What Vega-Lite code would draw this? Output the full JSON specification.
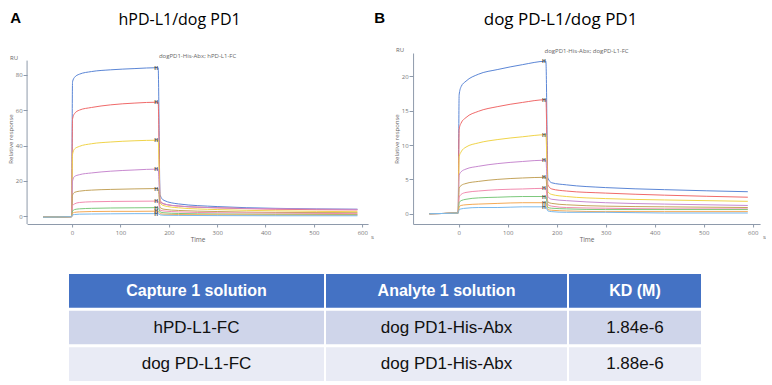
{
"$schema": "https://vega.github.io/schema/vega-lite/v6.json",
"background": "white",
"padding": {"left": 7, "top": 11, "right": 0, "bottom": 0},
"autosize": {"type": "pad"},
"config": {"view": {"stroke": null}, "font": "Open Sans"},
"datasets": {
"curves": [
{"p":"A","s":1,"t":-60,"v":-0.5},{"p":"A","s":1,"t":-1,"v":-0.2},{"p":"A","s":1,"t":1,"v":76},{"p":"A","s":1,"t":5,"v":78.5},{"p":"A","s":1,"t":15,"v":80.3},{"p":"A","s":1,"t":40,"v":81.8},{"p":"A","s":1,"t":80,"v":82.8},{"p":"A","s":1,"t":130,"v":83.5},{"p":"A","s":1,"t":178,"v":84},{"p":"A","s":1,"t":182,"v":12},{"p":"A","s":1,"t":190,"v":9},{"p":"A","s":1,"t":220,"v":7},{"p":"A","s":1,"t":300,"v":5.5},{"p":"A","s":1,"t":420,"v":4.5},{"p":"A","s":1,"t":590,"v":4},
{"p":"A","s":2,"t":-60,"v":-0.5},{"p":"A","s":2,"t":-1,"v":-0.2},{"p":"A","s":2,"t":1,"v":55},{"p":"A","s":2,"t":5,"v":58},{"p":"A","s":2,"t":15,"v":60},{"p":"A","s":2,"t":40,"v":61.5},{"p":"A","s":2,"t":80,"v":63},{"p":"A","s":2,"t":130,"v":64},{"p":"A","s":2,"t":178,"v":64.5},{"p":"A","s":2,"t":182,"v":9},{"p":"A","s":2,"t":190,"v":7},{"p":"A","s":2,"t":220,"v":5.8},{"p":"A","s":2,"t":300,"v":4.8},{"p":"A","s":2,"t":420,"v":4},{"p":"A","s":2,"t":590,"v":3.6},
{"p":"A","s":3,"t":-60,"v":-0.5},{"p":"A","s":3,"t":-1,"v":-0.2},{"p":"A","s":3,"t":1,"v":35},{"p":"A","s":3,"t":5,"v":38},{"p":"A","s":3,"t":15,"v":39.5},{"p":"A","s":3,"t":40,"v":41},{"p":"A","s":3,"t":80,"v":42},{"p":"A","s":3,"t":130,"v":42.7},{"p":"A","s":3,"t":178,"v":43},{"p":"A","s":3,"t":182,"v":7.5},{"p":"A","s":3,"t":190,"v":6},{"p":"A","s":3,"t":220,"v":4.8},{"p":"A","s":3,"t":300,"v":3.8},{"p":"A","s":3,"t":420,"v":3.1},{"p":"A","s":3,"t":590,"v":2.6},
{"p":"A","s":4,"t":-60,"v":-0.5},{"p":"A","s":4,"t":-1,"v":-0.2},{"p":"A","s":4,"t":1,"v":20},{"p":"A","s":4,"t":5,"v":22.5},{"p":"A","s":4,"t":15,"v":23.5},{"p":"A","s":4,"t":40,"v":24.5},{"p":"A","s":4,"t":80,"v":25.5},{"p":"A","s":4,"t":130,"v":26.2},{"p":"A","s":4,"t":178,"v":26.7},{"p":"A","s":4,"t":182,"v":8},{"p":"A","s":4,"t":190,"v":7},{"p":"A","s":4,"t":220,"v":5.8},{"p":"A","s":4,"t":300,"v":4.8},{"p":"A","s":4,"t":420,"v":4.3},{"p":"A","s":4,"t":590,"v":3.9},
{"p":"A","s":5,"t":-60,"v":-0.5},{"p":"A","s":5,"t":-1,"v":-0.2},{"p":"A","s":5,"t":1,"v":12},{"p":"A","s":5,"t":5,"v":13.5},{"p":"A","s":5,"t":15,"v":14.2},{"p":"A","s":5,"t":40,"v":14.8},{"p":"A","s":5,"t":80,"v":15.2},{"p":"A","s":5,"t":130,"v":15.5},{"p":"A","s":5,"t":178,"v":15.7},{"p":"A","s":5,"t":182,"v":5},{"p":"A","s":5,"t":190,"v":4},{"p":"A","s":5,"t":220,"v":3.3},{"p":"A","s":5,"t":300,"v":2.7},{"p":"A","s":5,"t":420,"v":2.2},{"p":"A","s":5,"t":590,"v":2},
{"p":"A","s":6,"t":-60,"v":-0.5},{"p":"A","s":6,"t":-1,"v":-0.2},{"p":"A","s":6,"t":1,"v":6},{"p":"A","s":6,"t":5,"v":7},{"p":"A","s":6,"t":15,"v":7.8},{"p":"A","s":6,"t":40,"v":8.2},{"p":"A","s":6,"t":80,"v":8.4},{"p":"A","s":6,"t":130,"v":8.5},{"p":"A","s":6,"t":178,"v":8.6},{"p":"A","s":6,"t":182,"v":3.5},{"p":"A","s":6,"t":190,"v":3},{"p":"A","s":6,"t":220,"v":2.5},{"p":"A","s":6,"t":300,"v":2},{"p":"A","s":6,"t":420,"v":1.8},{"p":"A","s":6,"t":590,"v":1.5},
{"p":"A","s":7,"t":-60,"v":-0.5},{"p":"A","s":7,"t":-1,"v":-0.2},{"p":"A","s":7,"t":1,"v":3},{"p":"A","s":7,"t":5,"v":3.8},{"p":"A","s":7,"t":15,"v":4.2},{"p":"A","s":7,"t":40,"v":4.5},{"p":"A","s":7,"t":80,"v":4.7},{"p":"A","s":7,"t":130,"v":4.8},{"p":"A","s":7,"t":178,"v":4.9},{"p":"A","s":7,"t":182,"v":2.5},{"p":"A","s":7,"t":190,"v":2},{"p":"A","s":7,"t":220,"v":1.6},{"p":"A","s":7,"t":300,"v":1.3},{"p":"A","s":7,"t":420,"v":1.1},{"p":"A","s":7,"t":590,"v":1},
{"p":"A","s":8,"t":-60,"v":-0.5},{"p":"A","s":8,"t":-1,"v":-0.2},{"p":"A","s":8,"t":1,"v":1.8},{"p":"A","s":8,"t":5,"v":2.2},{"p":"A","s":8,"t":15,"v":2.5},{"p":"A","s":8,"t":40,"v":2.7},{"p":"A","s":8,"t":80,"v":2.8},{"p":"A","s":8,"t":130,"v":2.8},{"p":"A","s":8,"t":178,"v":2.9},{"p":"A","s":8,"t":182,"v":1.5},{"p":"A","s":8,"t":190,"v":1.2},{"p":"A","s":8,"t":220,"v":1},{"p":"A","s":8,"t":300,"v":0.8},{"p":"A","s":8,"t":420,"v":0.7},{"p":"A","s":8,"t":590,"v":0.7},
{"p":"A","s":9,"t":-60,"v":-0.5},{"p":"A","s":9,"t":-1,"v":-0.2},{"p":"A","s":9,"t":1,"v":0.8},{"p":"A","s":9,"t":5,"v":1},{"p":"A","s":9,"t":15,"v":1.2},{"p":"A","s":9,"t":40,"v":1.3},{"p":"A","s":9,"t":80,"v":1.4},{"p":"A","s":9,"t":130,"v":1.5},{"p":"A","s":9,"t":178,"v":1.5},{"p":"A","s":9,"t":182,"v":0.8},{"p":"A","s":9,"t":190,"v":0.6},{"p":"A","s":9,"t":220,"v":0.5},{"p":"A","s":9,"t":300,"v":0.4},{"p":"A","s":9,"t":420,"v":0.3},{"p":"A","s":9,"t":590,"v":0.3},
{"p":"B","s":1,"t":-60,"v":0},{"p":"B","s":1,"t":-1,"v":0.1},{"p":"B","s":1,"t":1,"v":17.3},{"p":"B","s":1,"t":5,"v":18.5},{"p":"B","s":1,"t":15,"v":19.3},{"p":"B","s":1,"t":40,"v":20.3},{"p":"B","s":1,"t":80,"v":21},{"p":"B","s":1,"t":130,"v":21.7},{"p":"B","s":1,"t":178,"v":22.2},{"p":"B","s":1,"t":182,"v":5.2},{"p":"B","s":1,"t":190,"v":4.5},{"p":"B","s":1,"t":220,"v":4.2},{"p":"B","s":1,"t":300,"v":3.8},{"p":"B","s":1,"t":420,"v":3.5},{"p":"B","s":1,"t":590,"v":3.2},
{"p":"B","s":2,"t":-60,"v":0},{"p":"B","s":2,"t":-1,"v":0.1},{"p":"B","s":2,"t":1,"v":12.3},{"p":"B","s":2,"t":5,"v":13.2},{"p":"B","s":2,"t":15,"v":14},{"p":"B","s":2,"t":40,"v":14.9},{"p":"B","s":2,"t":80,"v":15.6},{"p":"B","s":2,"t":130,"v":16.2},{"p":"B","s":2,"t":178,"v":16.6},{"p":"B","s":2,"t":182,"v":4.2},{"p":"B","s":2,"t":190,"v":3.6},{"p":"B","s":2,"t":220,"v":3.3},{"p":"B","s":2,"t":300,"v":3},{"p":"B","s":2,"t":420,"v":2.7},{"p":"B","s":2,"t":590,"v":2.4},
{"p":"B","s":3,"t":-60,"v":0},{"p":"B","s":3,"t":-1,"v":0.1},{"p":"B","s":3,"t":1,"v":8.3},{"p":"B","s":3,"t":5,"v":9},{"p":"B","s":3,"t":15,"v":9.7},{"p":"B","s":3,"t":40,"v":10.3},{"p":"B","s":3,"t":80,"v":10.8},{"p":"B","s":3,"t":130,"v":11.2},{"p":"B","s":3,"t":178,"v":11.5},{"p":"B","s":3,"t":182,"v":3.2},{"p":"B","s":3,"t":190,"v":2.8},{"p":"B","s":3,"t":220,"v":2.5},{"p":"B","s":3,"t":300,"v":2.2},{"p":"B","s":3,"t":420,"v":2},{"p":"B","s":3,"t":590,"v":1.8},
{"p":"B","s":4,"t":-60,"v":0},{"p":"B","s":4,"t":-1,"v":0.1},{"p":"B","s":4,"t":1,"v":5.6},{"p":"B","s":4,"t":5,"v":6.1},{"p":"B","s":4,"t":15,"v":6.5},{"p":"B","s":4,"t":40,"v":6.9},{"p":"B","s":4,"t":80,"v":7.3},{"p":"B","s":4,"t":130,"v":7.6},{"p":"B","s":4,"t":178,"v":7.8},{"p":"B","s":4,"t":182,"v":2.5},{"p":"B","s":4,"t":190,"v":2.1},{"p":"B","s":4,"t":220,"v":1.9},{"p":"B","s":4,"t":300,"v":1.6},{"p":"B","s":4,"t":420,"v":1.4},{"p":"B","s":4,"t":590,"v":1.2},
{"p":"B","s":5,"t":-60,"v":0},{"p":"B","s":5,"t":-1,"v":0.1},{"p":"B","s":5,"t":1,"v":3.7},{"p":"B","s":5,"t":5,"v":4.1},{"p":"B","s":5,"t":15,"v":4.4},{"p":"B","s":5,"t":40,"v":4.7},{"p":"B","s":5,"t":80,"v":5},{"p":"B","s":5,"t":130,"v":5.2},{"p":"B","s":5,"t":178,"v":5.3},{"p":"B","s":5,"t":182,"v":1.7},{"p":"B","s":5,"t":190,"v":1.5},{"p":"B","s":5,"t":220,"v":1.3},{"p":"B","s":5,"t":300,"v":1.1},{"p":"B","s":5,"t":420,"v":1},{"p":"B","s":5,"t":590,"v":0.9},
{"p":"B","s":6,"t":-60,"v":0},{"p":"B","s":6,"t":-1,"v":0.1},{"p":"B","s":6,"t":1,"v":2.4},{"p":"B","s":6,"t":5,"v":2.8},{"p":"B","s":6,"t":15,"v":3.1},{"p":"B","s":6,"t":40,"v":3.3},{"p":"B","s":6,"t":80,"v":3.5},{"p":"B","s":6,"t":130,"v":3.6},{"p":"B","s":6,"t":178,"v":3.7},{"p":"B","s":6,"t":182,"v":1.3},{"p":"B","s":6,"t":190,"v":1.1},{"p":"B","s":6,"t":220,"v":0.9},{"p":"B","s":6,"t":300,"v":0.8},{"p":"B","s":6,"t":420,"v":0.7},{"p":"B","s":6,"t":590,"v":0.7},
{"p":"B","s":7,"t":-60,"v":0},{"p":"B","s":7,"t":-1,"v":0.1},{"p":"B","s":7,"t":1,"v":1.6},{"p":"B","s":7,"t":5,"v":1.9},{"p":"B","s":7,"t":15,"v":2.1},{"p":"B","s":7,"t":40,"v":2.3},{"p":"B","s":7,"t":80,"v":2.4},{"p":"B","s":7,"t":130,"v":2.5},{"p":"B","s":7,"t":178,"v":2.5},{"p":"B","s":7,"t":182,"v":0.9},{"p":"B","s":7,"t":190,"v":0.8},{"p":"B","s":7,"t":220,"v":0.7},{"p":"B","s":7,"t":300,"v":0.6},{"p":"B","s":7,"t":420,"v":0.6},{"p":"B","s":7,"t":590,"v":0.6},
{"p":"B","s":8,"t":-60,"v":0},{"p":"B","s":8,"t":-1,"v":0.1},{"p":"B","s":8,"t":1,"v":1},{"p":"B","s":8,"t":5,"v":1.2},{"p":"B","s":8,"t":15,"v":1.3},{"p":"B","s":8,"t":40,"v":1.4},{"p":"B","s":8,"t":80,"v":1.5},{"p":"B","s":8,"t":130,"v":1.6},{"p":"B","s":8,"t":178,"v":1.6},{"p":"B","s":8,"t":182,"v":0.6},{"p":"B","s":8,"t":190,"v":0.5},{"p":"B","s":8,"t":220,"v":0.4},{"p":"B","s":8,"t":300,"v":0.3},{"p":"B","s":8,"t":420,"v":0.3},{"p":"B","s":8,"t":590,"v":0.3},
{"p":"B","s":9,"t":-60,"v":0},{"p":"B","s":9,"t":-1,"v":0.1},{"p":"B","s":9,"t":1,"v":0.6},{"p":"B","s":9,"t":5,"v":0.7},{"p":"B","s":9,"t":15,"v":0.8},{"p":"B","s":9,"t":40,"v":0.9},{"p":"B","s":9,"t":80,"v":0.9},{"p":"B","s":9,"t":130,"v":1},{"p":"B","s":9,"t":178,"v":1},{"p":"B","s":9,"t":182,"v":0.4},{"p":"B","s":9,"t":190,"v":0.3},{"p":"B","s":9,"t":220,"v":0.2},{"p":"B","s":9,"t":300,"v":0.2},{"p":"B","s":9,"t":420,"v":0.1},{"p":"B","s":9,"t":590,"v":0.1}
],
"table": [
{"col":1,"r":0,"text":"Capture 1 solution"},{"col":2,"r":0,"text":"Analyte 1 solution"},{"col":3,"r":0,"text":"KD (M)"},
{"col":1,"r":1,"text":"hPD-L1-FC"},{"col":2,"r":1,"text":"dog PD1-His-Abx"},{"col":3,"r":1,"text":"1.84e-6"},
{"col":1,"r":2,"text":"dog PD-L1-FC"},{"col":2,"r":2,"text":"dog PD1-His-Abx"},{"col":3,"r":2,"text":"1.88e-6"}
]
},
"vconcat": [
{
"align": "none",
"hconcat": [
{
"title": {"text": "A", "orient": "top", "anchor": "start", "frame": "bounds", "offset": -14, "dx": 3, "fontSize": 15, "fontWeight": "bold", "font": "Liberation Sans", "color": "#000"},
"vconcat": [{
"title": {"text": "hPD-L1/dog PD1", "anchor": "middle", "frame": "bounds", "dx": -11, "offset": 25, "fontSize": 16, "fontWeight": "normal", "font": "Open Sans", "color": "#000"},
"vconcat": [{
"width": 341, "height": 171,
"title": {"text": "dogPD1-His-Abx; hPD-L1-FC", "anchor": "middle", "frame": "group", "offset": -6, "fontSize": 6, "fontWeight": "normal", "font": "Open Sans", "color": "#666"},
"layer": [
{"data": {"values": [{}]},
 "mark": {"type": "rule", "color": "#8e9aab", "strokeWidth": 1},
 "encoding": {"x": {"datum": -93}, "y": {"datum": -4.35}, "y2": {"datum": 88}}},
{"data": {"name": "curves"}, "transform": [{"filter": "datum.p == 'A'"}],
 "mark": {"type": "line", "strokeWidth": 1, "interpolate": "monotone"},
 "encoding": {
  "x": {"field": "t", "type": "quantitative", "scale": {"domain": [-93, 612], "nice": false, "zero": false},
   "axis": {"values": [0,100,200,300,400,500,600], "title": "Time", "titleFontSize": 6.5, "titleFontWeight": "normal", "titleColor": "#666", "titlePadding": 1, "labelFontSize": 6, "labelColor": "#777", "domainColor": "#8e9aab", "tickColor": "#8e9aab", "tickSize": 3, "labelPadding": 2, "grid": false}},
  "y": {"field": "v", "type": "quantitative", "scale": {"domain": [-4.35, 92.3], "nice": false, "zero": false},
   "axis": {"values": [0,10,20,30,40,50,60,70,80], "domain": false, "title": "Relative response", "titleFontSize": 6, "titleFontWeight": "normal", "titleColor": "#666", "titlePadding": 2, "labelFontSize": 6, "labelColor": "#777", "tickColor": "#8e9aab", "tickSize": 4, "labelPadding": 1, "grid": false}},
  "color": {"field": "s", "type": "nominal", "legend": null, "scale": {"domain": [1,2,3,4,5,6,7,8,9], "range": ["#5b86d6","#f06a6a","#f0d44a","#c88ad0","#c4a45c","#f28cb0","#7cc97c","#f5aa55","#79b9ee"]}}
 }},
{"data": {"name": "curves"}, "transform": [{"filter": "datum.p == 'A' && datum.t == 178"}],
 "mark": {"type": "text", "text": "H", "fontSize": 5, "fontWeight": "bold", "color": "#444", "dx": -2},
 "encoding": {"x": {"field": "t", "type": "quantitative"}, "y": {"field": "v", "type": "quantitative"}}},
{"data": {"values": [{}]},
 "mark": {"type": "text", "text": "RU", "fontSize": 6, "color": "#666", "align": "right", "dx": -9, "dy": -3},
 "encoding": {"x": {"datum": -93}, "y": {"datum": 88}}},
{"data": {"values": [{}]},
 "mark": {"type": "text", "text": "s", "fontSize": 6, "color": "#666", "align": "left", "baseline": "top", "dx": 3, "dy": 10},
 "encoding": {"x": {"datum": 612}, "y": {"datum": -4.35}}}
]
}]
}]
},
{
"title": {"text": "B", "orient": "top", "anchor": "start", "frame": "bounds", "offset": -15, "dx": -19, "fontSize": 15, "fontWeight": "bold", "font": "Liberation Sans", "color": "#000"},
"vconcat": [{
"title": {"text": "dog PD-L1/dog PD1", "anchor": "middle", "frame": "bounds", "dx": -19, "offset": 18, "fontSize": 17, "fontWeight": "normal", "font": "Open Sans", "color": "#000"},
"vconcat": [{
"width": 347, "height": 171,
"title": {"text": "dogPD1-His-Abx; dogPD-L1-FC", "anchor": "middle", "frame": "group", "offset": -7, "fontSize": 6, "fontWeight": "normal", "font": "Open Sans", "color": "#666"},
"layer": [
{"data": {"name": "curves"}, "transform": [{"filter": "datum.p == 'B'"}],
 "mark": {"type": "line", "strokeWidth": 1, "interpolate": "monotone"},
 "encoding": {
  "x": {"field": "t", "type": "quantitative", "scale": {"domain": [-93, 615], "nice": false, "zero": false},
   "axis": {"values": [0,100,200,300,400,500,600], "title": "Time", "titleFontSize": 6.5, "titleFontWeight": "normal", "titleColor": "#666", "titlePadding": 1, "labelFontSize": 6, "labelColor": "#777", "domainColor": "#8e9aab", "tickColor": "#8e9aab", "tickSize": 3, "labelPadding": 2, "grid": false}},
  "y": {"field": "v", "type": "quantitative", "scale": {"domain": [-1.5, 23.4], "nice": false, "zero": false},
   "axis": {"values": [0,2.5,5,7.5,10,12.5,15,17.5,20,22.5], "title": "Relative response", "titleFontSize": 6, "titleFontWeight": "normal", "titleColor": "#666", "titlePadding": 2, "labelFontSize": 6, "labelColor": "#777", "domainColor": "#8e9aab", "tickColor": "#8e9aab", "tickSize": 4, "labelPadding": 1, "grid": false}},
  "color": {"field": "s", "type": "nominal", "legend": null, "scale": {"domain": [1,2,3,4,5,6,7,8,9], "range": ["#5b86d6","#f06a6a","#f0d44a","#c88ad0","#c4a45c","#f28cb0","#7cc97c","#f5aa55","#79b9ee"]}}
 }},
{"data": {"name": "curves"}, "transform": [{"filter": "datum.p == 'B' && datum.t == 178"}],
 "mark": {"type": "text", "text": "H", "fontSize": 5, "fontWeight": "bold", "color": "#444", "dx": -2},
 "encoding": {"x": {"field": "t", "type": "quantitative"}, "y": {"field": "v", "type": "quantitative"}}},
{"data": {"values": [{}]},
 "mark": {"type": "text", "text": "RU", "fontSize": 6, "color": "#666", "align": "right", "dx": -9, "dy": -3},
 "encoding": {"x": {"datum": -93}, "y": {"datum": 23.4}}},
{"data": {"values": [{}]},
 "mark": {"type": "text", "text": "s", "fontSize": 6, "color": "#666", "align": "left", "baseline": "top", "dx": 3, "dy": 10},
 "encoding": {"x": {"datum": 615}, "y": {"datum": -1.5}}}
]
}]
}]
}
],
"spacing": 0
},
{
"hconcat": [
{"width": 255, "height": 107, "data": {"name": "table"}, "transform": [{"filter": "datum.col == 1"}],
 "layer": [
  {"mark": {"type": "rect"}, "encoding": {"y": {"field": "r", "type": "ordinal", "axis": null, "scale": {"paddingInner": 0.08, "paddingOuter": 0}}, "fill": {"field": "r", "type": "ordinal", "legend": null, "scale": {"domain": [0,1,2], "range": ["#4472c4","#cfd5ea","#e9ebf5"]}}}},
  {"transform": [{"filter": "datum.r == 0"}], "mark": {"type": "text", "font": "Liberation Sans", "fontSize": 16, "fontWeight": "bold", "color": "#ffffff"}, "encoding": {"y": {"field": "r", "type": "ordinal", "axis": null}, "text": {"field": "text"}}},
  {"transform": [{"filter": "datum.r > 0"}], "mark": {"type": "text", "font": "Liberation Sans", "fontSize": 17, "color": "#111111"}, "encoding": {"y": {"field": "r", "type": "ordinal", "axis": null}, "text": {"field": "text"}}}
 ]},
{"width": 241, "height": 107, "data": {"name": "table"}, "transform": [{"filter": "datum.col == 2"}],
 "layer": [
  {"mark": {"type": "rect"}, "encoding": {"y": {"field": "r", "type": "ordinal", "axis": null, "scale": {"paddingInner": 0.08, "paddingOuter": 0}}, "fill": {"field": "r", "type": "ordinal", "legend": null, "scale": {"domain": [0,1,2], "range": ["#4472c4","#cfd5ea","#e9ebf5"]}}}},
  {"transform": [{"filter": "datum.r == 0"}], "mark": {"type": "text", "font": "Liberation Sans", "fontSize": 16, "fontWeight": "bold", "color": "#ffffff"}, "encoding": {"y": {"field": "r", "type": "ordinal", "axis": null}, "text": {"field": "text"}}},
  {"transform": [{"filter": "datum.r > 0"}], "mark": {"type": "text", "font": "Liberation Sans", "fontSize": 17, "color": "#111111"}, "encoding": {"y": {"field": "r", "type": "ordinal", "axis": null}, "text": {"field": "text"}}}
 ]},
{"width": 132, "height": 107, "data": {"name": "table"}, "transform": [{"filter": "datum.col == 3"}],
 "layer": [
  {"mark": {"type": "rect"}, "encoding": {"y": {"field": "r", "type": "ordinal", "axis": null, "scale": {"paddingInner": 0.08, "paddingOuter": 0}}, "fill": {"field": "r", "type": "ordinal", "legend": null, "scale": {"domain": [0,1,2], "range": ["#4472c4","#cfd5ea","#e9ebf5"]}}}},
  {"transform": [{"filter": "datum.r == 0"}], "mark": {"type": "text", "font": "Liberation Sans", "fontSize": 16, "fontWeight": "bold", "color": "#ffffff"}, "encoding": {"y": {"field": "r", "type": "ordinal", "axis": null}, "text": {"field": "text"}}},
  {"transform": [{"filter": "datum.r > 0"}], "mark": {"type": "text", "font": "Liberation Sans", "fontSize": 17, "color": "#111111"}, "encoding": {"y": {"field": "r", "type": "ordinal", "axis": null}, "text": {"field": "text"}}}
 ]},
{"width": 21, "height": 107, "data": {"values": [{}]}, "mark": {"type": "text", "text": ""}}
],
"spacing": 2
}
],
"spacing": 31,
"center": true
}
